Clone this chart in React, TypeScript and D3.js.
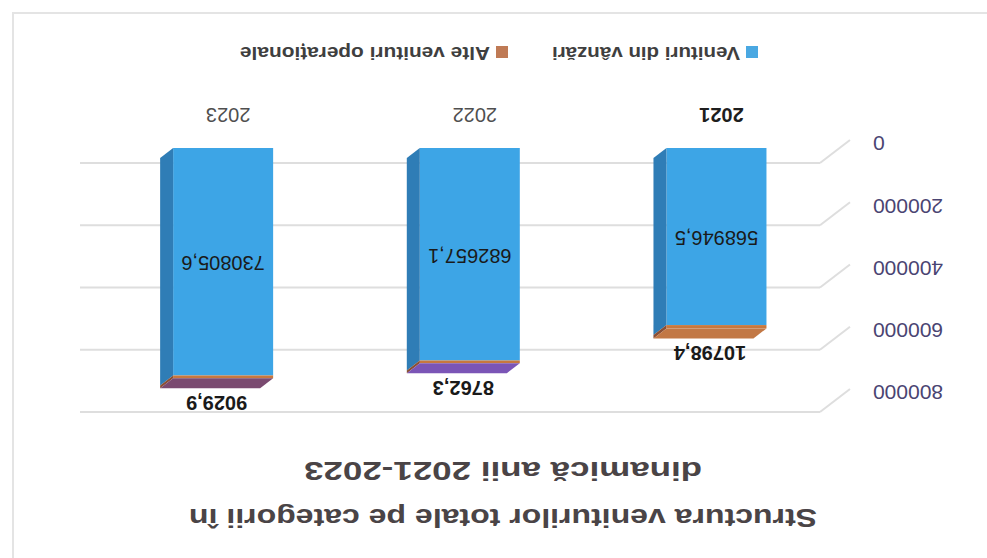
import React from 'react';
import * as d3 from 'd3';

// values read from the (upside-down) scanned chart
const years = ['2021', '2022', '2023'];
const sales = [568946.5, 682657.1, 730805.6];
const otherIncome = [10798.4, 8762.3, 9029.9];
const seriesNames = ['Venituri din vânzări', 'Alte venituri operaționale'];
const yTicks = [0, 200000, 400000, 600000, 800000];
const titleLines = ['Structura veniturilor totale pe categorii în', 'dinamică anii 2021-2023'];

// colours seen on the top slab of each bar (scan shifts them a lot)
const topSlabColors = ['#c27845', '#7b55b6', '#7a4a70'];

const W = 987;
const H = 558;
const DX = 13; // bar depth offset
const DY = -10;
const WALL_DX = -30; // side wall offset for grid lines
const WALL_DY = 23;

const fmt = (v: number) => v.toFixed(1).replace('.', ',');

const App: React.FC = () => {
  const x = d3.scaleBand<string>().domain(years).range([167, 907]);
  const yWall = d3.scaleLinear().domain([0, 800000]).range([395, 146]);
  const yFront = d3.scaleLinear().domain([0, 800000]).range([410, 161]);
  const barW = 100;

  const rows = years.map((y, i) => ({ year: y, sales: sales[i], other: otherIncome[i] }));
  const stack = d3.stack<any>().keys(['sales', 'other'])(rows);

  const font = '"Liberation Sans", Arial, sans-serif';

  return (
    <svg width={W} height={H} style={{ position: 'absolute', left: 0, top: 0, background: '#fff' }}>
      <g transform={`rotate(180 ${W / 2} ${H / 2})`}>
        <rect x={-20} y={-20} width={994} height={565} fill="none" stroke="#e4e4e4" strokeWidth={2} />

        {/* title */}
        {titleLines.map((t, i) => (
          <text
            key={t}
            x={484}
            y={49 + i * 47}
            textAnchor="middle"
            fontFamily={font}
            fontWeight="bold"
            fontSize={26}
            fill="#4a4446"
            textLength={i === 0 ? 628 : 398}
            lengthAdjust="spacingAndGlyphs"
          >
            {t}
          </text>
        ))}

        {/* grid lines on back wall + side wall diagonals */}
        {yTicks.map(v => (
          <g key={v}>
            <line x1={x.range()[0]} x2={x.range()[1]} y1={yWall(v)} y2={yWall(v)} stroke="#dedede" strokeWidth={2} />
            <line
              x1={x.range()[0]}
              y1={yWall(v)}
              x2={x.range()[0] + WALL_DX}
              y2={yWall(v) + WALL_DY}
              stroke="#dedede"
              strokeWidth={2}
            />
            <text
              x={114}
              y={yWall(v) + 21}
              textAnchor="end"
              dominantBaseline="middle"
              fontFamily={font}
              fontSize={21}
              fill="#4a4472"
            >
              {v}
            </text>
          </g>
        ))}

        {/* bars */}
        {years.map((yr, i) => {
          const x0 = (x(yr) || 0) + (x.bandwidth() - barW) / 2 + WALL_DX * 0.66;
          const segs = stack.map(s => s[i]);
          const frontTop = yFront(segs[1][1]);
          return (
            <g key={yr}>
              {segs.map((d, k) => {
                const yt = yFront(d[1]);
                const yb = yFront(d[0]);
                const front = k === 0 ? '#3da5e6' : '#c8783e';
                const side = k === 0 ? '#2f7db6' : '#8a4f35';
                return (
                  <g key={k}>
                    <rect x={x0} y={yt} width={barW} height={yb - yt} fill={front} />
                    <polygon
                      points={`${x0 + barW},${yt} ${x0 + barW + DX},${yt + DY} ${x0 + barW + DX},${yb + DY} ${x0 + barW},${yb}`}
                      fill={side}
                    />
                  </g>
                );
              })}
              <polygon
                points={`${x0},${frontTop} ${x0 + DX},${frontTop + DY} ${x0 + barW + DX},${frontTop + DY} ${x0 + barW},${frontTop}`}
                fill={topSlabColors[i]}
              />
              {/* value labels */}
              <text
                x={x0 + barW / 2}
                y={(yFront(segs[0][0]) + yFront(segs[0][1])) / 2}
                textAnchor="middle"
                dominantBaseline="middle"
                fontFamily={font}
                fontSize={20}
                fill="#1a1a1a"
              >
                {fmt(sales[i])}
              </text>
              <text
                x={x0 + barW / 2 + DX / 2}
                y={frontTop + DY - 13}
                textAnchor="middle"
                dominantBaseline="middle"
                fontFamily={font}
                fontWeight="bold"
                fontSize={20}
                fill="#1a1a1a"
              >
                {fmt(otherIncome[i])}
              </text>
              {/* category label */}
              <text
                x={x0 + barW / 2 - 5}
                y={445}
                textAnchor="middle"
                dominantBaseline="middle"
                fontFamily={font}
                fontWeight={i === 0 ? 'bold' : 'normal'}
                fontSize={20}
                fill={i === 0 ? '#1e1e1e' : '#4f4f4f'}
              >
                {yr}
              </text>
            </g>
          );
        })}

        {/* legend */}
        {seriesNames.map((n, i) => {
          const lx = i === 0 ? 229 : 479;
          return (
            <g key={n} transform={`translate(${lx},506)`}>
              <rect x={0} y={-6} width={12} height={12} fill={i === 0 ? '#4aa8e2' : '#bf7a55'} />
              <text
                x={18}
                y={0}
                dominantBaseline="middle"
                fontFamily={font}
                fontWeight="bold"
                fontSize={19}
                fill="#3f3f3f"
                textLength={i === 0 ? 188 : 250}
                lengthAdjust="spacingAndGlyphs"
              >
                {n}
              </text>
            </g>
          );
        })}
      </g>
    </svg>
  );
};

export default App;
